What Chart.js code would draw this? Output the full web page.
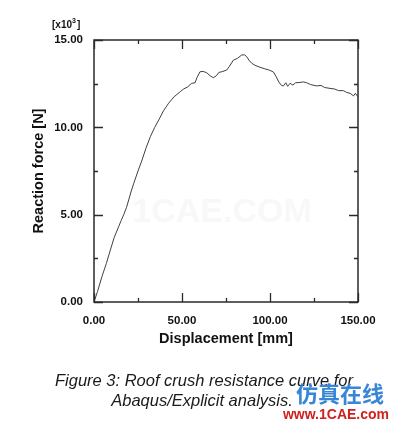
<!DOCTYPE html>
<html>
<head>
<meta charset="utf-8">
<script src="https://cdn.jsdelivr.net/npm/chart.js@4"></script>
<style>
html,body{margin:0;padding:0;background:#fff;}
#wrap{width:397px;height:422px;position:relative;}
</style>
</head>
<body>
<div id="wrap"><canvas id="c" width="397" height="422"></canvas></div>
<script>
// Displacement [mm]
const displacement = [0,2,4.5,7,9.3,11.5,14,15.5,16.9,18.5,19.7,21,22.6,25,27.3,29.5,32,34.5,36.8,39.5,42.4,45.5,49,51,53,55.5,57.4,58.5,60.2,62,64,66,67.8,69.5,71,72.6,75.4,77,79.2,81.5,83.9,85.5,86.8,88,89.6,91.5,94.3,97,99.5,101.9,103.5,105,106.5,107.6,109,110,111.4,113,114.5,117,119,120.9,123,126.5,129,131,134.1,136.5,139,141.7,143.5,145.5,147.5,148.5,150];
// Reaction force [x10^3 N]
const force = [0,0.6,1.45,2.2,2.98,3.7,4.31,4.68,5.0,5.42,5.84,6.3,6.8,7.5,8.13,8.8,9.46,10.0,10.42,10.95,11.38,11.75,12.04,12.2,12.3,12.52,12.55,12.85,13.18,13.2,13.13,12.95,12.84,12.95,13.15,13.18,13.28,13.5,13.85,13.95,14.14,14.15,14.04,13.85,13.67,13.55,13.44,13.35,13.28,13.17,12.9,12.6,12.4,12.37,12.55,12.35,12.52,12.42,12.55,12.57,12.6,12.55,12.45,12.37,12.4,12.28,12.23,12.2,12.1,12.1,12.0,11.95,11.8,11.95,11.75];
const xTicks = [0, 50, 100, 150];
const yTicks = [0, 5, 10, 15];
const xMinorStep = 25;
const yMinorStep = 2.5;
const xTitle = 'Displacement [mm]';
const yTitle = 'Reaction force [N]';
const captionLines = ['Figure 3: Roof crush resistance curve for', 'Abaqus/Explicit analysis.'];

const points = displacement.map((d, i) => ({x: d, y: force[i]}));

const decor = {
  id: 'decor',
  beforeDraw(chart) {
    const ctx = chart.ctx;
    ctx.save();
    ctx.fillStyle = '#fff';
    ctx.fillRect(0, 0, chart.width, chart.height);
    // faint watermark
    ctx.font = 'bold 34px "Liberation Sans", Arial, sans-serif';
    ctx.fillStyle = 'rgba(235,235,235,0.35)';
    ctx.textAlign = 'center';
    ctx.textBaseline = 'middle';
    ctx.fillText('1CAE.COM', 222, 213);
    ctx.restore();
  },
  afterDraw(chart) {
    const ctx = chart.ctx;
    const a = chart.chartArea;
    const xs = chart.scales.x, ys = chart.scales.y;
    ctx.save();
    ctx.strokeStyle = '#2a2a2a';
    ctx.lineWidth = 1.5;
    ctx.strokeRect(a.left, a.top, a.right - a.left, a.bottom - a.top);
    ctx.lineWidth = 1.3;
    ctx.beginPath();
    for (let v = xs.min; v <= xs.max + 1e-9; v += xMinorStep) {
      const px = Math.round(xs.getPixelForValue(v)) + 0.5;
      const len = xTicks.includes(v) ? 9 : 4;
      ctx.moveTo(px, a.bottom); ctx.lineTo(px, a.bottom - len);
      ctx.moveTo(px, a.top); ctx.lineTo(px, a.top + len);
    }
    for (let v = ys.min; v <= ys.max + 1e-9; v += yMinorStep) {
      const py = Math.round(ys.getPixelForValue(v)) + 0.5;
      const len = yTicks.includes(v) ? 9 : 4;
      ctx.moveTo(a.left, py); ctx.lineTo(a.left + len, py);
      ctx.moveTo(a.right, py); ctx.lineTo(a.right - len, py);
    }
    ctx.stroke();
    // exponent label
    ctx.fillStyle = '#111';
    ctx.textBaseline = 'alphabetic';
    ctx.textAlign = 'left';
    ctx.font = 'bold 10px "Liberation Sans", Arial, sans-serif';
    ctx.fillText('[x10', 52, 28);
    const w1 = ctx.measureText('[x10').width;
    ctx.font = 'bold 7px "Liberation Sans", Arial, sans-serif';
    ctx.fillText('3', 52 + w1, 23);
    const w2 = ctx.measureText('3').width;
    ctx.font = 'bold 10px "Liberation Sans", Arial, sans-serif';
    ctx.fillText(']', 52 + w1 + w2 + 1, 28);
    // caption
    ctx.fillStyle = '#1a1a1a';
    ctx.textAlign = 'center';
    ctx.font = 'italic 16.5px "Liberation Sans", Arial, sans-serif';
    ctx.fillText(captionLines[0], 204, 386);
    ctx.fillText(captionLines[1], 202, 406);
    // site marks
    ctx.font = 'bold 22px "Noto Sans CJK SC", sans-serif';
    ctx.fillStyle = '#3a86d6';
    ctx.fillText('仿真在线', 340, 402);
    ctx.font = 'bold 14px "Liberation Sans", Arial, sans-serif';
    ctx.fillStyle = '#d01f1f';
    ctx.fillText('www.1CAE.com', 336, 419);
    ctx.restore();
  }
};

new Chart(document.getElementById('c'), {
  type: 'line',
  data: {
    datasets: [{
      data: points,
      borderColor: '#4a3c3c',
      borderWidth: 1,
      pointRadius: 0,
      tension: 0,
      fill: false
    }]
  },
  options: {
    responsive: false,
    animation: false,
    devicePixelRatio: 1,
    layout: {padding: {left: 0, top: 40, right: 39, bottom: 0}},
    plugins: {legend: {display: false}, tooltip: {enabled: false}},
    scales: {
      x: {
        type: 'linear',
        min: 0, max: 150,
        afterFit(s) { s.height = 120; },
        afterBuildTicks(s) { s.ticks = xTicks.map(v => ({value: v})); },
        grid: {display: false, drawTicks: false},
        border: {display: false},
        ticks: {
          padding: 12,
          color: '#111',
          font: {family: '"Liberation Sans", Arial, sans-serif', size: 11.5, weight: 'bold'},
          callback: v => Number(v).toFixed(2),
          maxRotation: 0
        },
        title: {
          display: true, text: xTitle, color: '#111',
          font: {family: '"Liberation Sans", Arial, sans-serif', size: 14.5, weight: 'bold'},
          padding: {top: 0, bottom: 74}
        }
      },
      y: {
        type: 'linear',
        min: 0, max: 15,
        afterFit(s) { s.width = 94; },
        afterBuildTicks(s) { s.ticks = yTicks.map(v => ({value: v})); },
        grid: {display: false, drawTicks: false},
        border: {display: false},
        ticks: {
          padding: 11,
          color: '#111',
          font: {family: '"Liberation Sans", Arial, sans-serif', size: 11.5, weight: 'bold'},
          callback: v => Number(v).toFixed(2)
        },
        title: {
          display: true, text: yTitle, color: '#111',
          font: {family: '"Liberation Sans", Arial, sans-serif', size: 14.5, weight: 'bold'},
          padding: {top: 30, bottom: 0}
        }
      }
    }
  },
  plugins: [decor]
});
</script>
</body>
</html>
